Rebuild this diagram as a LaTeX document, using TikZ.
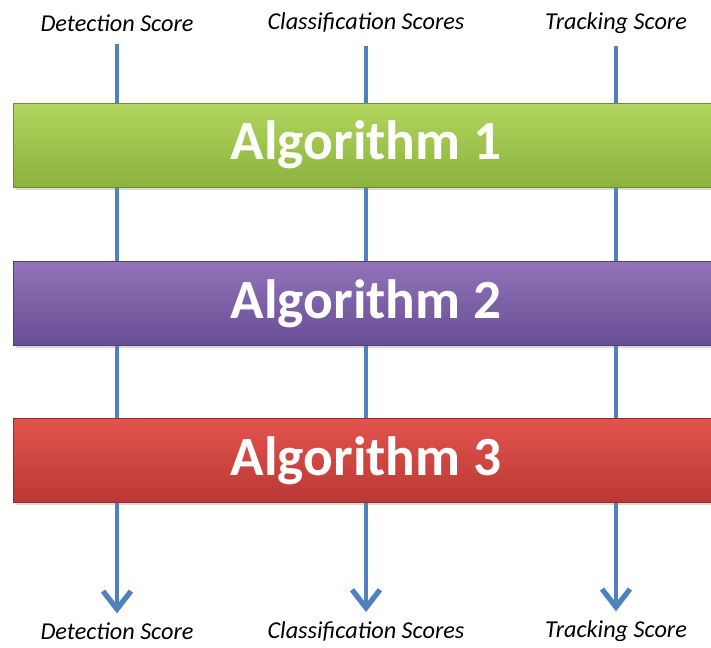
\documentclass[tikz,border=0pt]{standalone}
\usepackage{fontspec}
\setmainfont{Carlito}
\usetikzlibrary{arrows.meta, shadows}

\definecolor{flowblue}{RGB}{79,129,189}
\definecolor{grntop}{RGB}{178,214,95}
\definecolor{grnbot}{RGB}{138,178,60}
\definecolor{purtop}{RGB}{145,115,185}
\definecolor{purbot}{RGB}{104,78,148}
\definecolor{redtop}{RGB}{226,84,78}
\definecolor{redbot}{RGB}{186,56,52}

\begin{document}
\begin{tikzpicture}[x=0.02cm, y=-0.02cm,
    score/.style={font=\itshape\fontsize{13.8}{16}\selectfont, inner sep=0pt},
    flow/.style={line width=2.8pt, flowblue,
      -{Straight Barb[length=3.6mm, width=5.6mm, line width=3pt]}},
    algo/.style={minimum width=14.12cm, minimum height=1.68cm,
      draw=#1bot!80!black, line width=0.4pt,
      top color=#1top, bottom color=#1bot,
      drop shadow={shadow xshift=1.5pt, shadow yshift=-1.5pt, opacity=0.3},
      text=white, font=\bfseries\fontsize{31.5}{36}\selectfont}]
  \clip (0,0) rectangle (711,647);

  \foreach \n/\x/\txt in {d/117/Detection Score, c/366/Classification Scores, t/616/Tracking Score} {
    \node[score] (\n top) at (\x, 23) {\txt};
    \node[score] (\n bot) at (\x, 631) {\txt};
    \draw[flow, shorten <=7pt, shorten >=5pt] (\n top) -- (\n bot);
  }

  % the three stages
  \node[algo=grn] (alg1) at (366, 145) {Algorithm 1};
  \node[algo=pur] (alg2) at (366, 303.5) {Algorithm 2};
  \node[algo=red] (alg3) at (366, 460.5) {Algorithm 3};
\end{tikzpicture}
\end{document}
